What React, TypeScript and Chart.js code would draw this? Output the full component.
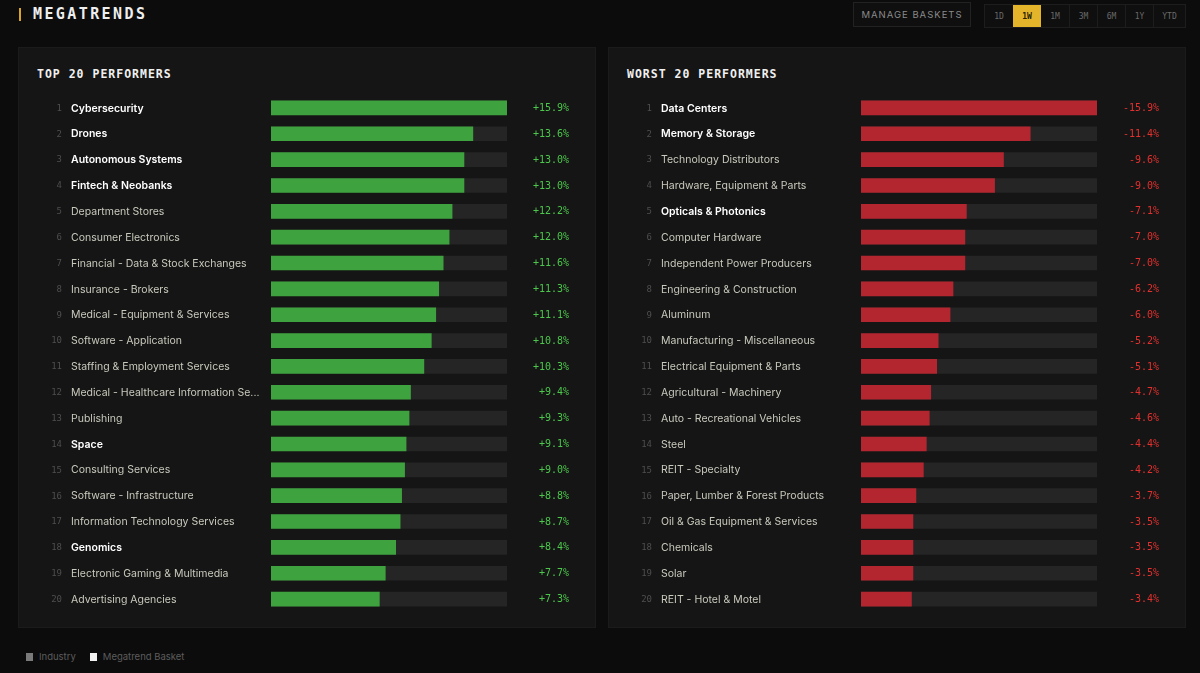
import React, { useEffect, useRef } from "react";
import { Chart, registerables } from "chart.js";
Chart.register(...registerables);

const topNames = [
  "Cybersecurity", "Drones", "Autonomous Systems", "Fintech & Neobanks", "Department Stores",
  "Consumer Electronics", "Financial - Data & Stock Exchanges", "Insurance - Brokers",
  "Medical - Equipment & Services", "Software - Application", "Staffing & Employment Services",
  "Medical - Healthcare Information Se...", "Publishing", "Space", "Consulting Services",
  "Software - Infrastructure", "Information Technology Services", "Genomics",
  "Electronic Gaming & Multimedia", "Advertising Agencies",
];
const topValues = [15.9, 13.6, 13.0, 13.0, 12.2, 12.0, 11.6, 11.3, 11.1, 10.8, 10.3, 9.4, 9.3, 9.1, 9.0, 8.8, 8.7, 8.4, 7.7, 7.3];
const topBasket = [true, true, true, true, false, false, false, false, false, false, false, false, false, true, false, false, false, true, false, false];

const worstNames = [
  "Data Centers", "Memory & Storage", "Technology Distributors", "Hardware, Equipment & Parts",
  "Opticals & Photonics", "Computer Hardware", "Independent Power Producers",
  "Engineering & Construction", "Aluminum", "Manufacturing - Miscellaneous",
  "Electrical Equipment & Parts", "Agricultural - Machinery", "Auto - Recreational Vehicles",
  "Steel", "REIT - Specialty", "Paper, Lumber & Forest Products", "Oil & Gas Equipment & Services",
  "Chemicals", "Solar", "REIT - Hotel & Motel",
];
const worstValues = [-15.9, -11.4, -9.6, -9.0, -7.1, -7.0, -7.0, -6.2, -6.0, -5.2, -5.1, -4.7, -4.6, -4.4, -4.2, -3.7, -3.5, -3.5, -3.5, -3.4];
const worstBasket = [true, true, false, false, true, false, false, false, false, false, false, false, false, false, false, false, false, false, false, false];

const periods = ["1D", "1W", "1M", "3M", "6M", "1Y", "YTD"];
const activePeriod = "1W";
const legendItems = [
  { label: "Industry", color: "#7a7a7a" },
  { label: "Megatrend Basket", color: "#f2f2f2" },
];

const MONO = '"DejaVu Sans Mono", monospace';
const SANS = 'Inter, "Noto Sans", sans-serif';

function fmt(v: number) {
  return (v > 0 ? "+" : "") + v.toFixed(1) + "%";
}

function Panel(props: {
  title: string; names: string[]; values: number[]; basket: boolean[];
  barColor: string; textColor: string; left: number;
}) {
  const { title, names, values, basket, barColor, textColor, left } = props;
  const ref = useRef<HTMLCanvasElement>(null);
  useEffect(() => {
    const abs = values.map((v) => Math.abs(v));
    const max = Math.max(...abs);
    const labelPlugin = {
      id: "rowLabels",
      afterDatasetsDraw(chart: any) {
        const { ctx, scales } = chart;
        const y = scales.y;
        ctx.save();
        ctx.textBaseline = "middle";
        names.forEach((n, i) => {
          const py = y.getPixelForValue(i) + 0.5;
          ctx.font = `9px ${MONO}`;
          ctx.fillStyle = "#4e4e4e";
          ctx.textAlign = "right";
          ctx.fillText(String(i + 1), 44, py);
          ctx.textAlign = "left";
          ctx.font = basket[i] ? `600 10.5px ${SANS}` : `10.5px ${SANS}`;
          ctx.fillStyle = basket[i] ? "#ffffff" : "#c9c9bd";
          ctx.fillText(n, 53, py);
          ctx.textAlign = "right";
          ctx.font = `10px ${MONO}`;
          ctx.fillStyle = textColor;
          ctx.fillText(fmt(values[i]), chart.chartArea.right + 62, py);
        });
        ctx.restore();
      },
    };
    const chart = new Chart(ref.current!, {
      type: "bar",
      data: {
        labels: names,
        datasets: [
          { data: abs, backgroundColor: barColor, barThickness: 14, grouped: false, order: 1 } as any,
          { data: names.map(() => max), backgroundColor: "#252525", barThickness: 14, grouped: false, order: 2 } as any,
        ],
      },
      options: {
        indexAxis: "y",
        responsive: false,
        animation: false,
        layout: { padding: { left: 253, right: 89, top: 48, bottom: 16 } },
        scales: {
          x: { display: false, min: 0, max },
          y: { display: false },
        },
        plugins: { legend: { display: false }, tooltip: { enabled: false } },
      },
      plugins: [labelPlugin],
    });
    return () => chart.destroy();
  }, []);
  return (
    <div style={{ position: "absolute", left, top: 47, width: 578, height: 581, background: "#151515", border: "1px solid #1b1b1b", boxSizing: "border-box" }}>
      <div style={{ position: "absolute", left: 18, top: 19, fontFamily: MONO, fontWeight: 700, fontSize: 11.5, letterSpacing: 1.0, color: "#f0f0f0", lineHeight: "14px" }}>{title}</div>
      <canvas ref={ref} width={578} height={581} style={{ position: "absolute", left: -1, top: -1 }} />
    </div>
  );
}

export default function App() {
  return (
    <div style={{ position: "fixed", left: 0, top: 0, width: 1200, height: 673, background: "#0c0c0c", overflow: "hidden" }}>
      <div style={{ position: "absolute", left: 19, top: 8, width: 2, height: 13, background: "#d8a42a" }} />
      <div style={{ position: "absolute", left: 33, top: 5, fontFamily: MONO, fontWeight: 700, fontSize: 15, letterSpacing: 2.4, color: "#eeeeee", lineHeight: "18px" }}>MEGATRENDS</div>
      <div style={{ position: "absolute", left: 853, top: 2, width: 118, height: 25, border: "1px solid #222", background: "#0f0f0f", boxSizing: "border-box", color: "#8a8a8a", fontFamily: SANS, fontSize: 9.5, letterSpacing: 1, display: "flex", alignItems: "center", justifyContent: "center" }}>MANAGE BASKETS</div>
      <div style={{ position: "absolute", left: 984, top: 4, height: 22, display: "flex", border: "1px solid #1d1d1d", background: "#0f0f0f" }}>
        {periods.map((p, i) => (
          <div key={p} style={{ width: p === "YTD" ? 32 : 28, height: 22, display: "flex", alignItems: "center", justifyContent: "center", fontFamily: MONO, fontSize: 8, color: p === activePeriod ? "#2a2000" : "#6a6a6a", background: p === activePeriod ? "#e4b52a" : "transparent", borderLeft: i > 0 && p !== activePeriod && periods[i - 1] !== activePeriod ? "1px solid #1d1d1d" : "none", boxSizing: "border-box", fontWeight: p === activePeriod ? 700 : 400 }}>{p}</div>
        ))}
      </div>
      <Panel title="TOP 20 PERFORMERS" names={topNames} values={topValues} basket={topBasket} barColor="#3ea33e" textColor="#4cc64c" left={18} />
      <Panel title="WORST 20 PERFORMERS" names={worstNames} values={worstValues} basket={worstBasket} barColor="#b3262f" textColor="#e0312f" left={608} />
      <div style={{ position: "absolute", left: 26, top: 651, display: "flex", alignItems: "center", fontFamily: SANS, fontSize: 9.5, color: "#5c5c5c" }}>
        {legendItems.map((it) => (
          <div key={it.label} style={{ display: "flex", alignItems: "center", marginRight: 14 }}>
            <div style={{ width: 7, height: 8, background: it.color, marginRight: 6 }} />
            <span>{it.label}</span>
          </div>
        ))}
      </div>
    </div>
  );
}
